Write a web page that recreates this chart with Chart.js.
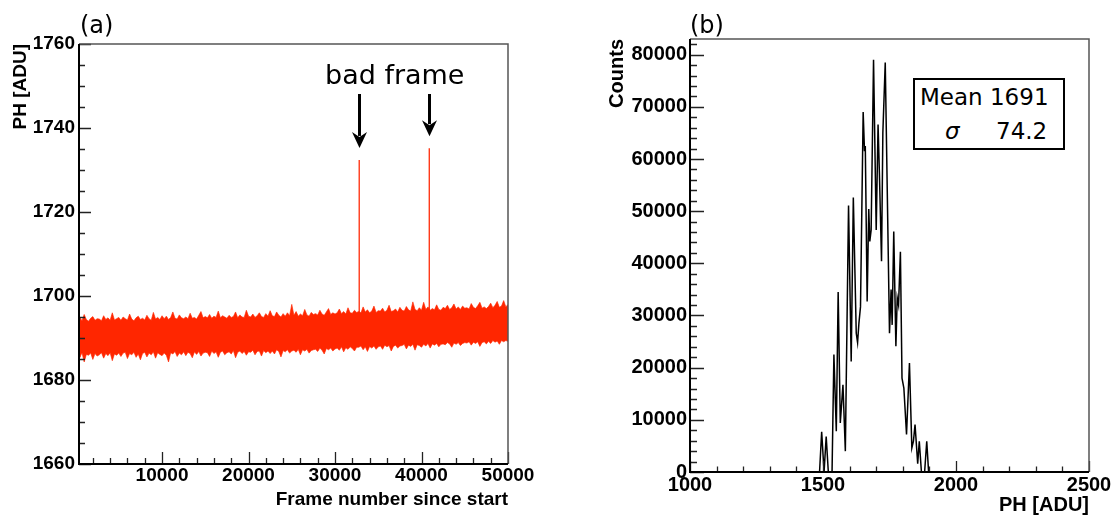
<!DOCTYPE html>
<html>
<head>
<meta charset="utf-8">
<script src="https://cdn.jsdelivr.net/npm/chart.js@4.4.1/dist/chart.umd.min.js"></script>
<style>
  body { margin: 0; background: #fff; width: 1117px; height: 518px; overflow: hidden; position: relative; font-family: "DejaVu Sans", sans-serif; }
  canvas { position: absolute; top: 0; }
  #chart_a { left: 0; }
  #chart_b { left: 560px; }
  .note { position: absolute; line-height: 1; white-space: nowrap; color: #000; }
  #stats { position: absolute; left: 913px; top: 78px; width: 148px; height: 68px; border: 2px solid #000; background: #fff; }
</style>
</head>
<body>
<canvas id="chart_a" width="540" height="518"></canvas>
<canvas id="chart_b" width="557" height="518"></canvas>
<div class="note" style="left:80px;top:13px;font-size:24px">(a)</div>
<div class="note" style="left:690px;top:13px;font-size:24px">(b)</div>
<div class="note" style="left:325px;top:61px;font-size:27px">bad frame</div>
<div id="stats">
  <span class="note" style="left:5px;top:6px;font-size:23px">Mean 1691</span>
  <span class="note" style="left:30px;top:40px;font-size:23px;font-style:italic">σ</span>
  <span class="note" style="left:81px;top:40px;font-size:23px">74.2</span>
</div>
<script>
// === (a) PH vs frame: upper / lower edge of the noise band ===
const frames = [400,500,750,1000,1250,1500,1750,2000,2250,2500,
  2750,3000,3250,3500,3750,4000,4250,4500,4750,5000,
  5250,5500,5750,6000,6250,6500,6750,7000,7250,7500,
  7750,8000,8250,8500,8750,9000,9250,9500,9750,10000,
  10250,10500,10750,11000,11250,11500,11750,12000,12250,12500,
  12750,13000,13250,13500,13750,14000,14250,14500,14750,15000,
  15250,15500,15750,16000,16250,16500,16750,17000,17250,17500,
  17750,18000,18250,18500,18750,19000,19250,19500,19750,20000,
  20250,20500,20750,21000,21250,21500,21750,22000,22250,22500,
  22750,23000,23250,23500,23750,24000,24250,24500,24750,25000,
  25250,25500,25750,26000,26250,26500,26750,27000,27250,27500,
  27750,28000,28250,28500,28750,29000,29250,29500,29750,30000,
  30250,30500,30750,31000,31250,31500,31750,32000,32250,32500,
  32750,33000,33250,33500,33750,34000,34250,34500,34750,35000,
  35250,35500,35750,36000,36250,36500,36750,37000,37250,37500,
  37750,38000,38250,38500,38750,39000,39250,39500,39750,40000,
  40250,40500,40750,41000,41250,41500,41750,42000,42250,42500,
  42750,43000,43250,43500,43750,44000,44250,44500,44750,45000,
  45250,45500,45750,46000,46250,46500,46750,47000,47250,47500,
  47750,48000,48250,48500,48750,49000,49250,49500,49750,50000];

const phHigh = [1694.3,1694.9,1694.1,1695.6,1694.4,1694.0,1694.7,1695.1,1694.2,1694.6,
  1694.5,1694.1,1695.3,1694.4,1694.8,1694.2,1696.0,1694.3,1694.6,1694.9,
  1694.2,1695.0,1694.6,1694.3,1695.7,1694.5,1694.1,1694.8,1695.2,1694.4,
  1694.7,1694.3,1695.4,1694.6,1694.2,1696.1,1694.5,1694.9,1694.4,1695.3,
  1694.6,1695.2,1694.4,1694.9,1696.2,1694.7,1694.5,1695.5,1694.8,1694.6,
  1695.0,1694.6,1695.9,1694.7,1694.9,1694.5,1695.4,1696.3,1694.8,1695.1,
  1694.8,1695.6,1694.7,1695.2,1694.9,1696.4,1694.8,1695.3,1695.0,1694.7,
  1695.4,1694.9,1695.1,1696.2,1694.8,1695.5,1695.0,1694.9,1696.6,1695.2,
  1695.0,1695.7,1694.9,1695.3,1696.0,1695.1,1694.9,1695.8,1695.2,1696.5,
  1695.3,1695.1,1696.2,1695.4,1695.0,1695.8,1695.2,1696.0,1695.3,1698.0,
  1695.4,1696.3,1695.2,1695.7,1695.3,1696.8,1695.5,1695.2,1696.1,1695.6,
  1695.8,1695.5,1696.6,1695.7,1695.4,1696.2,1697.0,1695.6,1696.0,1695.7,
  1696.0,1696.9,1695.8,1696.3,1695.7,1697.2,1696.0,1695.9,1696.6,1696.1,
  1696.3,1696.0,1697.4,1696.2,1696.7,1696.0,1696.4,1697.6,1696.1,1696.5,
  1696.4,1697.1,1696.2,1696.6,1697.8,1696.3,1696.5,1696.9,1696.2,1697.3,
  1696.6,1696.4,1697.5,1696.7,1696.4,1698.6,1696.8,1696.5,1697.2,1696.6,
  1698.5,1696.8,1697.4,1696.6,1697.0,1696.7,1697.9,1696.8,1696.6,1697.3,
  1697.0,1697.8,1696.8,1697.2,1698.1,1696.9,1697.4,1696.8,1697.6,1697.1,
  1697.2,1696.9,1698.2,1697.3,1697.0,1697.7,1698.5,1697.1,1697.4,1697.0,
  1697.5,1698.3,1697.2,1697.8,1698.7,1697.3,1697.6,1698.9,1697.4,1698.0];

const phLow = [1686.2,1685.4,1686.5,1684.3,1686.1,1685.9,1686.4,1684.9,1686.3,1685.7,
  1686.0,1686.5,1685.2,1686.3,1685.8,1686.5,1684.6,1686.2,1685.9,1686.4,
  1685.6,1686.4,1686.6,1685.1,1686.3,1686.0,1686.6,1685.4,1686.2,1684.8,
  1686.3,1686.6,1685.5,1686.4,1686.0,1686.7,1685.2,1686.5,1686.1,1685.8,
  1686.4,1685.9,1684.3,1686.5,1686.2,1686.8,1685.6,1686.4,1686.0,1686.7,
  1685.8,1686.6,1686.3,1685.3,1686.7,1686.1,1686.8,1685.7,1686.4,1686.6,
  1686.5,1685.6,1686.9,1686.3,1686.7,1685.4,1686.6,1686.9,1686.0,1686.5,
  1686.7,1686.2,1687.0,1685.3,1686.6,1686.9,1686.3,1686.8,1685.9,1686.7,
  1686.6,1687.1,1686.0,1686.8,1686.9,1685.7,1687.0,1686.5,1686.9,1686.3,
  1686.9,1686.2,1687.2,1686.8,1685.5,1687.0,1686.7,1687.2,1686.4,1686.9,
  1687.1,1686.6,1687.3,1686.0,1687.2,1686.9,1687.3,1686.4,1687.0,1687.2,
  1687.3,1686.8,1687.6,1687.1,1686.2,1687.5,1687.2,1687.6,1686.9,1687.4,
  1687.6,1687.1,1687.9,1686.7,1687.7,1687.3,1687.9,1687.5,1686.9,1687.8,
  1687.8,1688.1,1687.2,1687.9,1686.8,1688.0,1687.6,1688.1,1687.3,1687.9,
  1688.1,1687.3,1688.3,1687.9,1688.2,1686.9,1688.0,1688.3,1687.6,1688.1,
  1688.2,1688.5,1687.4,1688.3,1688.0,1688.5,1687.1,1688.4,1688.2,1687.8,
  1688.5,1688.1,1688.7,1687.6,1688.6,1688.3,1688.7,1687.9,1688.5,1688.6,
  1688.4,1688.9,1688.6,1687.8,1688.8,1688.5,1688.9,1688.2,1688.7,1688.9,
  1688.8,1689.1,1688.3,1689.0,1688.7,1689.1,1688.0,1688.9,1689.1,1688.6,
  1689.2,1688.7,1689.4,1689.0,1689.3,1688.5,1689.4,1689.1,1689.4,1689.2];

// bad frames (spikes)
const badFrames = [32800, 40900];
const badBase = [1692.0, 1692.8];
const badPeak = [1732.4, 1735.2];

const ticksAx = [10000, 20000, 30000, 40000, 50000];
const ticksAy = [1660, 1680, 1700, 1720, 1740, 1760];

// === (b) PH histogram ===
const phBins = [1487,1495,1504,1512,1520,1534,1541,1550,1557,1565,
  1575,1584,1596,1606,1614,1625,1630,1635,1641,1651,
  1656,1659,1666,1672,1676,1681,1690,1700,1707,1712,
  1720,1725,1734,1750,1756,1760,1766,1774,1779,1784,
  1791,1797,1804,1814,1825,1834,1840,1846,1856,1862,
  1870,1882,1890,1897];
const counts = [0,7700,0,6800,0,0,22500,7800,34500,9400,
  16700,4000,51100,21200,52600,26600,24800,28500,31700,69000,
  61500,62500,32700,50400,44200,46400,79000,46400,66600,57300,
  40400,65000,78500,26600,35000,28200,46100,24100,33400,32000,
  42200,18000,16100,7200,20900,4600,5900,9100,1600,5900,
  0,0,5900,0];

const ticksBx = [1000, 1500, 2000, 2500];
const ticksBy = [0, 10000, 20000, 30000, 40000, 50000, 60000, 70000, 80000];

// === helpers ===
const axisFont = size => ({ family: "'Liberation Sans', Arial, sans-serif", size: size, weight: 'bold' });

// ROOT-like frame with inward ticks
function frameTicks(cfg) {
  return {
    id: 'frameTicks',
    afterDatasetsDraw(chart) {
      const { ctx, chartArea: a, scales: { x, y } } = chart;
      ctx.save();
      ctx.strokeStyle = '#222';
      ctx.lineWidth = 1.3;
      ctx.beginPath();
      for (let v = Math.ceil(x.min / cfg.xStep) * cfg.xStep; v <= x.max; v += cfg.xStep) {
        const px = Math.round(x.getPixelForValue(v)) + 0.5;
        const len = cfg.xMajor.includes(v) ? cfg.xLen[0] : cfg.xLen[1];
        ctx.moveTo(px, a.bottom);
        ctx.lineTo(px, a.bottom - len);
      }
      for (let v = Math.ceil(y.min / cfg.yStep) * cfg.yStep; v <= y.max; v += cfg.yStep) {
        const py = Math.round(y.getPixelForValue(v)) + 0.5;
        const len = cfg.yMajor.includes(v) ? cfg.yLen[0] : cfg.yLen[1];
        ctx.moveTo(a.left, py);
        ctx.lineTo(a.left + len, py);
      }
      ctx.stroke();

      // top + right border
      ctx.strokeStyle = '#555';
      ctx.lineWidth = 1.5;
      ctx.beginPath();
      ctx.moveTo(a.left, a.top);
      ctx.lineTo(a.right, a.top);
      ctx.lineTo(a.right, a.bottom);
      ctx.stroke();

      // axes
      ctx.strokeStyle = '#000';
      ctx.lineWidth = 2;
      ctx.beginPath();
      ctx.moveTo(a.left, a.top);
      ctx.lineTo(a.left, a.bottom);
      ctx.lineTo(a.right, a.bottom);
      ctx.stroke();
      ctx.restore();
    }
  };
}

// arrows pointing at the bad frames
const badArrows = {
  id: 'badArrows',
  afterDatasetsDraw(chart) {
    const { ctx, scales: { x, y } } = chart;
    ctx.save();
    ctx.strokeStyle = '#000';
    ctx.fillStyle = '#000';
    ctx.lineWidth = 3;
    badFrames.forEach((f, i) => {
      const px = Math.round(x.getPixelForValue(f)) + 0.5;
      const tip = y.getPixelForValue(badPeak[i]) - 12;
      ctx.beginPath();
      ctx.moveTo(px, 94);
      ctx.lineTo(px, tip - 12);
      ctx.stroke();
      ctx.beginPath();
      ctx.moveTo(px - 7.5, tip - 16);
      ctx.lineTo(px, tip);
      ctx.lineTo(px + 7.5, tip - 16);
      ctx.lineTo(px, tip - 11);
      ctx.closePath();
      ctx.fill();
    });
    ctx.restore();
  }
};

Chart.defaults.color = '#000';

// === (a) ===
new Chart(document.getElementById('chart_a'), {
  type: 'line',
  data: {
    datasets: [
      {
        data: frames.map((f, i) => ({ x: f, y: phLow[i] })),
        borderColor: 'rgba(255,38,0,0.65)',
        borderWidth: 1,
        pointRadius: 0,
        fill: false
      },
      {
        data: frames.map((f, i) => ({ x: f, y: phHigh[i] })),
        borderColor: 'rgba(255,38,0,0.65)',
        backgroundColor: '#ff2600',
        borderWidth: 1,
        pointRadius: 0,
        fill: '-1'
      },
      ...badFrames.map((f, i) => ({
        data: [{ x: f, y: badBase[i] }, { x: f, y: badPeak[i] }],
        borderColor: '#ff3a1a',
        borderWidth: 1.4,
        pointRadius: 0,
        fill: false
      }))
    ]
  },
  options: {
    responsive: false,
    animation: false,
    layout: { padding: { top: 44, right: 32, left: 0, bottom: 0 } },
    plugins: { legend: { display: false }, tooltip: { enabled: false } },
    scales: {
      x: {
        type: 'linear', min: 400, max: 50000,
        afterBuildTicks: s => { s.ticks = ticksAx.map(v => ({ value: v })); },
        afterFit: s => { s.height = 54; },
        grid: { display: false, drawTicks: false },
        border: { display: false },
        ticks: { autoSkip: false, maxRotation: 0, padding: 0, font: axisFont(19), color: '#000', callback: v => String(v) },
        title: { display: true, text: 'Frame number since start', align: 'end', font: axisFont(19), color: '#000', padding: { top: 0, bottom: 7 } }
      },
      y: {
        type: 'linear', min: 1660, max: 1760,
        afterBuildTicks: s => { s.ticks = ticksAy.map(v => ({ value: v })); },
        afterFit: s => { s.width = 79; },
        grid: { display: false, drawTicks: false },
        border: { display: false },
        ticks: { padding: 4, font: axisFont(19), color: '#000', callback: v => String(v) },
        title: { display: true, text: 'PH [ADU]', align: 'end', font: axisFont(19), color: '#000', padding: { top: 9, bottom: 0 } }
      }
    }
  },
  plugins: [
    frameTicks({ xStep: 2000, xMajor: ticksAx, xLen: [12, 6], yStep: 5, yMajor: ticksAy, yLen: [12, 6] }),
    badArrows
  ]
});

// === (b) ===
new Chart(document.getElementById('chart_b'), {
  type: 'line',
  data: {
    datasets: [{
      data: phBins.map((b, i) => ({ x: b, y: counts[i] })),
      borderColor: '#000',
      borderWidth: 1.5,
      pointRadius: 0,
      tension: 0,
      fill: false
    }]
  },
  options: {
    responsive: false,
    animation: false,
    layout: { padding: { top: 39, right: 28, left: 0, bottom: 0 } },
    plugins: { legend: { display: false }, tooltip: { enabled: false } },
    scales: {
      x: {
        type: 'linear', min: 1000, max: 2500,
        afterBuildTicks: s => { s.ticks = ticksBx.map(v => ({ value: v })); },
        afterFit: s => { s.height = 46; },
        grid: { display: false, drawTicks: false },
        border: { display: false },
        ticks: { autoSkip: false, maxRotation: 0, padding: 1, font: axisFont(20), color: '#000', callback: v => String(v) },
        title: { display: true, text: 'PH [ADU]', align: 'end', font: axisFont(20), color: '#000', padding: { top: 0, bottom: 1 } }
      },
      y: {
        type: 'linear', min: 0, max: 83000,
        afterBuildTicks: s => { s.ticks = ticksBy.map(v => ({ value: v })); },
        afterFit: s => { s.width = 130; },
        grid: { display: false, drawTicks: false },
        border: { display: false },
        ticks: { padding: 3, font: axisFont(20), color: '#000', callback: v => String(v) },
        title: { display: true, text: 'Counts', align: 'end', font: axisFont(20), color: '#000', padding: { top: 45, bottom: 0 } }
      }
    }
  },
  plugins: [
    frameTicks({ xStep: 100, xMajor: ticksBx, xLen: [11, 5.5], yStep: 2000, yMajor: ticksBy, yLen: [14, 7] })
  ]
});
</script>
</body>
</html>
